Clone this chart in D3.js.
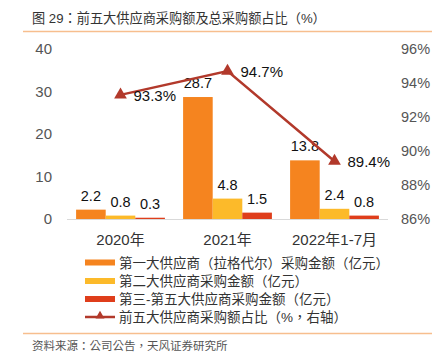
<!DOCTYPE html>
<html><head><meta charset="utf-8">
<script src="https://cdn.jsdelivr.net/npm/d3@7"></script>
<style>body{margin:0;background:#fff}svg{display:block}</style>
</head><body><svg id="c" width="443" height="359"></svg>
<script>
const categories = ["2020年", "2021年", "2022年1-7月"];
const seriesNames = ["第一大供应商（拉格代尔）采购金额（亿元）", "第二大供应商采购金额（亿元）", "第三-第五大供应商采购金额（亿元）"];
const top1 = [2.2, 28.7, 13.8];
const second = [0.8, 4.8, 2.4];
const third5 = [0.3, 1.5, 0.8];
const lineName = "前五大供应商采购额占比（%，右轴）";
const ratio = [93.3, 94.7, 89.4];
const leftTicks = [0, 10, 20, 30, 40];
const rightTicks = [86, 88, 90, 92, 94, 96];
const colors = ["#F5841F", "#FCBA2A", "#DF3E1B"];
const lineColor = "#B2392B";
const FONT = "'Liberation Sans','Noto Sans CJK TC',sans-serif";

const svg = d3.select("#c").style("font-family", FONT);
// title
svg.append("text").attr("x", 32).attr("y", 23).attr("font-size", 13.2).attr("fill", "#333")
  .text("图 29：前五大供应商采购额及总采购额占比（%）");
svg.append("line").attr("x1", 23).attr("x2", 432).attr("y1", 31.5).attr("y2", 31.5)
  .attr("stroke", "#F7BE8E").attr("stroke-width", 1.5);
svg.append("line").attr("x1", 23).attr("x2", 432).attr("y1", 333.5).attr("y2", 333.5)
  .attr("stroke", "#F7BE8E").attr("stroke-width", 1.5);
svg.append("text").attr("x", 32).attr("y", 350).attr("font-size", 11.5).attr("fill", "#555")
  .text("资料来源：公司公告，天风证券研究所");

const x0 = d3.scaleBand().domain(categories).range([67, 388]).paddingInner(0.17).paddingOuter(0.085);
const x1 = d3.scaleBand().domain([0, 1, 2]).range([0, x0.bandwidth()]);
const yL = d3.scaleLinear().domain([0, 40]).range([219, 49]);
const yR = d3.scaleLinear().domain([86, 96]).range([219, 49]);

// axes
const gL = svg.append("g").attr("transform", "translate(52,0)")
  .call(d3.axisLeft(yL).tickValues(leftTicks).tickSize(0).tickPadding(0));
gL.select(".domain").remove();
gL.selectAll("text").attr("font-size", 15).attr("fill", "#555").attr("font-family", FONT);
const gR = svg.append("g").attr("transform", "translate(401,0)")
  .call(d3.axisRight(yR).tickValues(rightTicks).tickSize(0).tickPadding(0).tickFormat(d => d + "%"));
gR.select(".domain").remove();
gR.selectAll("text").attr("font-size", 14.5).attr("fill", "#555").attr("font-family", FONT);

const series = [top1, second, third5];
series.forEach((vals, si) => {
  const g = svg.append("g");
  g.selectAll("rect").data(vals).join("rect")
    .attr("x", (d, i) => x0(categories[i]) + x1(si))
    .attr("width", x1.bandwidth())
    .attr("y", d => yL(d)).attr("height", d => yL(0) - yL(d))
    .attr("fill", colors[si]);
  g.selectAll("text").data(vals).join("text")
    .attr("x", (d, i) => x0(categories[i]) + x1(si) + x1.bandwidth() / 2)
    .attr("y", d => yL(d) - 9)
    .attr("text-anchor", "middle").attr("font-size", 14.5).attr("fill", "#111")
    .text(d => d.toFixed(1));
});

// baseline
svg.append("line").attr("x1", 67).attr("x2", 388).attr("y1", 219.5).attr("y2", 219.5)
  .attr("stroke", "#d9d9d9").attr("stroke-width", 1);

// x labels
const gX = svg.append("g").attr("transform", "translate(0,219)")
  .call(d3.axisBottom(x0).tickSize(0).tickPadding(15));
gX.select(".domain").remove();
gX.selectAll("text").attr("font-size", 15).attr("fill", "#333").attr("font-family", FONT);

// line
const cx = c => x0(c) + x0.bandwidth() / 2;
svg.append("path").datum(ratio)
  .attr("d", d3.line().x((d, i) => cx(categories[i])).y(d => yR(d)))
  .attr("fill", "none").attr("stroke", lineColor).attr("stroke-width", 2.5);
const tri = d3.symbol().type(d3.symbolTriangle).size(70);
svg.append("g").selectAll("path").data(ratio).join("path")
  .attr("transform", (d, i) => `translate(${cx(categories[i])},${yR(d)})`)
  .attr("d", tri).attr("fill", lineColor);
svg.append("g").selectAll("text").data(ratio).join("text")
  .attr("x", (d, i) => cx(categories[i]) + 13)
  .attr("y", d => yR(d) + 6)
  .attr("font-size", 15).attr("fill", "#111")
  .text(d => d.toFixed(1) + "%");

// legend
const leg = svg.append("g");
const rows = [262.5, 281, 299, 317];
seriesNames.forEach((n, i) => {
  leg.append("rect").attr("x", 85).attr("y", rows[i] - 3).attr("width", 30).attr("height", 6).attr("fill", colors[i]);
  leg.append("text").attr("x", 119).attr("y", rows[i] + 5).attr("font-size", 13.5).attr("fill", "#333").text(n);
});
leg.append("line").attr("x1", 85).attr("x2", 115).attr("y1", rows[3]).attr("y2", rows[3])
  .attr("stroke", lineColor).attr("stroke-width", 2.5);
leg.append("path").attr("transform", `translate(100,${rows[3] - 1})`)
  .attr("d", d3.symbol().type(d3.symbolTriangle).size(35)).attr("fill", lineColor);
leg.append("text").attr("x", 119).attr("y", rows[3] + 5).attr("font-size", 13.5).attr("fill", "#333").text(lineName);
</script></body></html>
